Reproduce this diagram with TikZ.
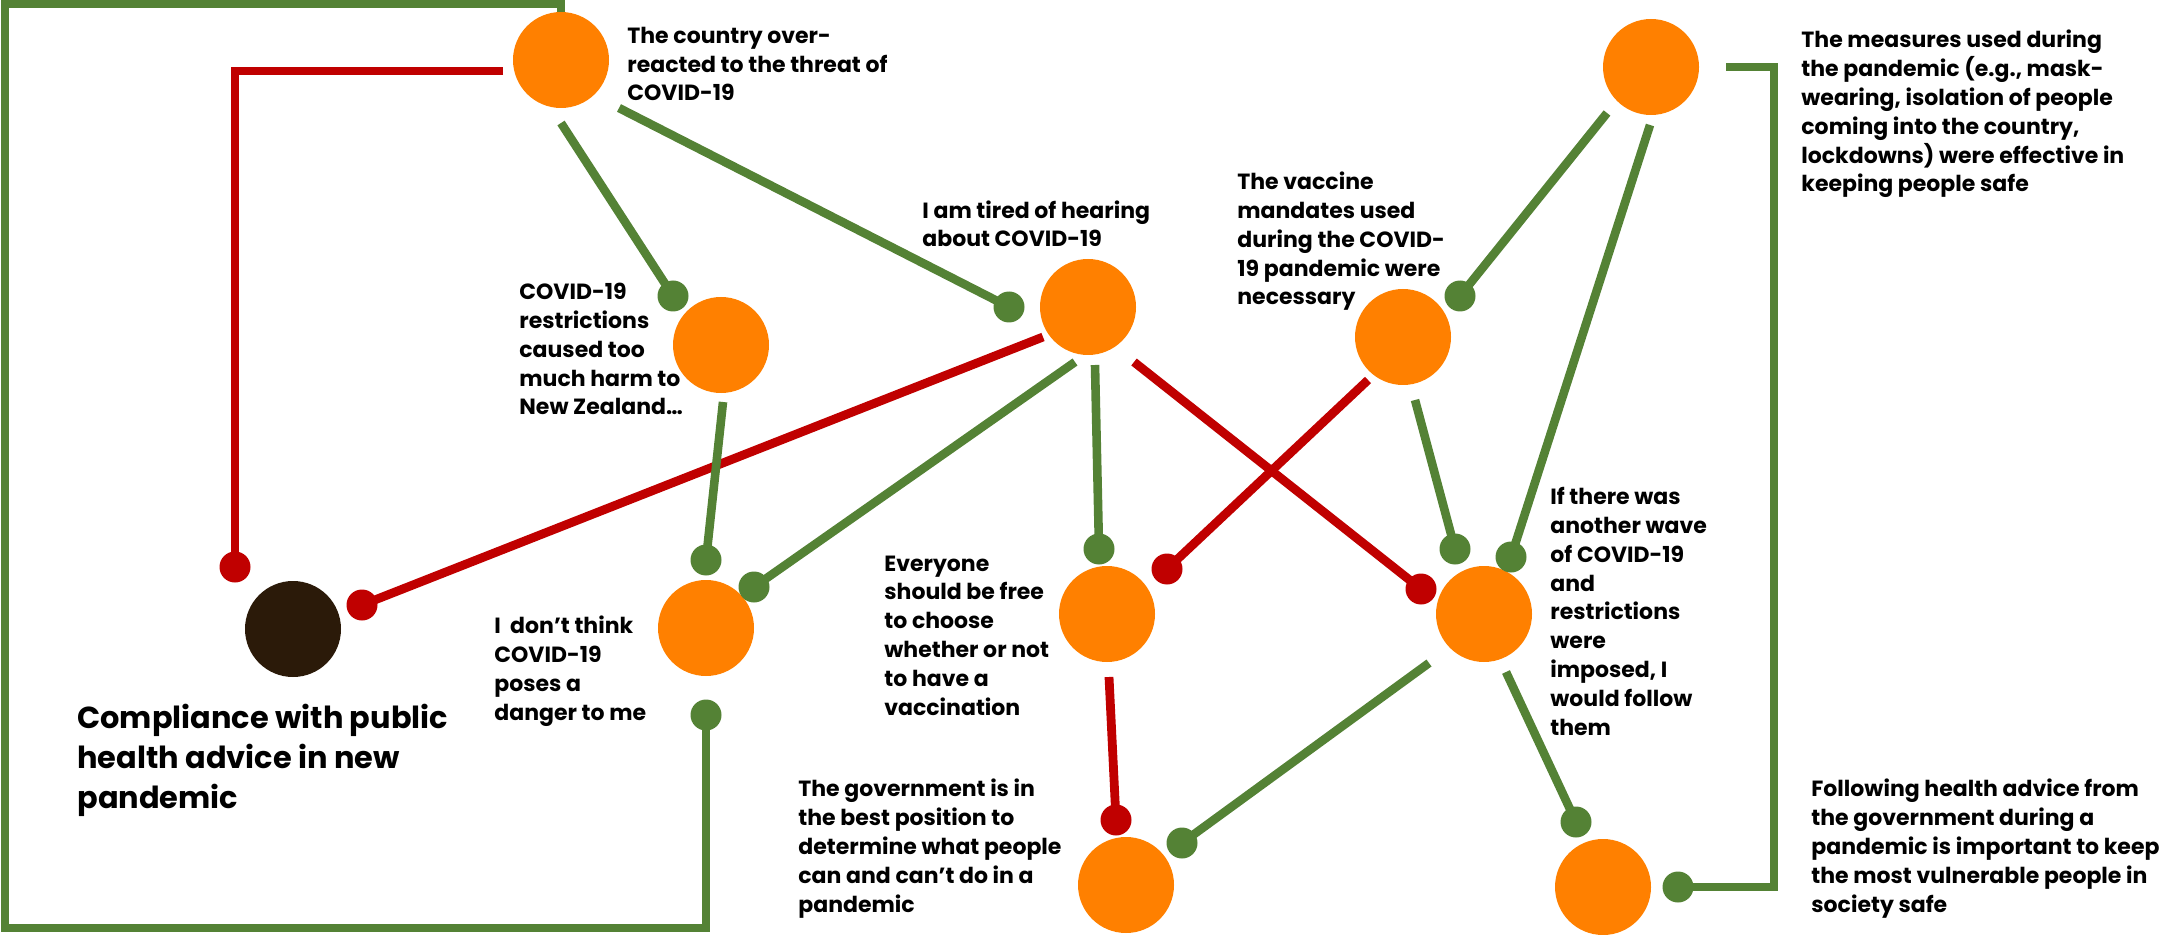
\documentclass[tikz,border=0pt]{standalone}
\usepackage{fontspec}
\setmainfont{Poppins}
\definecolor{ora}{RGB}{255,128,0}
\definecolor{grn}{RGB}{84,130,53}
\definecolor{rd}{RGB}{192,0,0}
\definecolor{drk}{RGB}{43,26,9}
\begin{document}
\begin{tikzpicture}[x=0.5pt,y=-0.5pt,
  circ/.style={circle,fill=ora,minimum size=48pt,inner sep=0},
  dcirc/.style={circle,fill=drk,minimum size=48pt,inner sep=0},
  gdot/.style={circle,fill=grn,minimum size=15.5pt,inner sep=0},
  rdot/.style={circle,fill=rd,minimum size=15.5pt,inner sep=0},
  gl/.style={draw=grn,line width=4.3pt},
  rl/.style={draw=rd,line width=4.4pt},
  lab/.style={anchor=base west,align=left,inner sep=0,font=\bfseries\fontsize{11}{14.4}\selectfont},
  biglab/.style={anchor=base west,align=left,inner sep=0,font=\bfseries\fontsize{15.2}{19.8}\selectfont},
]
\useasboundingbox (0,0) rectangle (2172,935);
% connector end points
\coordinate (s1) at (503,71);  \coordinate (d1) at (235,567);
\coordinate (s2) at (561,13);  \coordinate (d2) at (706,715);
\coordinate (s3) at (561,123); \coordinate (d3) at (673,296);
\coordinate (s4) at (619,108); \coordinate (d4) at (1009,307);
\coordinate (s5) at (1043,337);\coordinate (d5) at (362,605);
\coordinate (s6) at (723,402); \coordinate (d6) at (706,560);
\coordinate (s7) at (1075,362);\coordinate (d7) at (754,587);
\coordinate (s8) at (1095,365);\coordinate (d8) at (1099,549);
\coordinate (s9) at (1134,362);\coordinate (d9) at (1421,589);
\coordinate (s10) at (1368,380);\coordinate (d10) at (1167,569);
\coordinate (s11) at (1415,400);\coordinate (d11) at (1455,549);
\coordinate (s12) at (1607,113);\coordinate (d12) at (1460,296);
\coordinate (s13) at (1650,125);\coordinate (d13) at (1511,557);
\coordinate (s14) at (1726,67); \coordinate (d14) at (1678,887);
\coordinate (s15) at (1109,677);\coordinate (d15) at (1116,820);
\coordinate (s16) at (1429,663);\coordinate (d16) at (1182,843);
\coordinate (s17) at (1506,672);\coordinate (d17) at (1576,822);
% connectors
\draw[rl] (s1) -- (235,71) -- (d1);
\draw[gl] (s2) -- (561,4) -- (5,4) -- (5,928) -- (706,928) -- (d2);
\draw[gl] (s3) -- (d3);
\draw[gl] (s4) -- (d4);
\draw[rl] (s5) -- (d5);
\draw[gl] (s6) -- (d6);
\draw[gl] (s7) -- (d7);
\draw[gl] (s8) -- (d8);
\draw[rl] (s9) -- (d9);
\draw[rl] (s10) -- (d10);
\draw[gl] (s11) -- (d11);
\draw[gl] (s12) -- (d12);
\draw[gl] (s13) -- (d13);
\draw[gl] (s14) -- (1774,67) -- (1774,887) -- (d14);
\draw[rl] (s15) -- (d15);
\draw[gl] (s16) -- (d16);
\draw[gl] (s17) -- (d17);
% circles
\node[circ] (n1) at (561,60) {};
\node[circ] (n2) at (721,345) {};
\node[circ] (n3) at (1088,307) {};
\node[circ] (n4) at (1403,337) {};
\node[circ] (n5) at (1651,67) {};
\node[dcirc] (comp) at (293,629) {};
\node[circ] (n6) at (706,628) {};
\node[circ] (n7) at (1107,614) {};
\node[circ] (n8) at (1126,885) {};
\node[circ] (n9) at (1484,614) {};
\node[circ] (n10) at (1603,887) {};
% dots
\node[rdot] (e1) at (d1) {};
\node[gdot] (e2) at (d2) {};
\node[gdot] (e3) at (d3) {};
\node[gdot] (e4) at (d4) {};
\node[rdot] (e5) at (d5) {};
\node[gdot] (e6) at (d6) {};
\node[gdot] (e7) at (d7) {};
\node[gdot] (e8) at (d8) {};
\node[rdot] (e9) at (d9) {};
\node[rdot] (e10) at (d10) {};
\node[gdot] (e11) at (d11) {};
\node[gdot] (e12) at (d12) {};
\node[gdot] (e13) at (d13) {};
\node[gdot] (e14) at (d14) {};
\node[rdot] (e15) at (d15) {};
\node[gdot] (e16) at (d16) {};
\node[gdot] (e17) at (d17) {};
% labels (anchored at the baseline of their last line)
\node[lab] (t1) at (627,101) {The country over-\\reacted to the threat of\\COVID-19};
\node[lab] (t2) at (519,415) {COVID-19\\restrictions\\caused too\\much harm to\\New Zealand…};
\node[lab] (t3) at (922,247) {I am tired of hearing\\about COVID-19};
\node[lab] (t4) at (1237,305) {The vaccine\\mandates used\\during the COVID-\\19 pandemic were\\necessary};
\node[lab] (t5) at (1801,192) {The measures used during\\the pandemic (e.g., mask-\\wearing, isolation of people\\coming into the country,\\lockdowns) were effective in\\keeping people safe};
\node[biglab] (t6) at (77,808) {Compliance with public\\health advice in new\\pandemic};
\node[lab] (t7) at (494,720) {I\ \ don’t think\\COVID-19\\poses a\\danger to me};
\node[lab] (t8) at (884,715) {Everyone\\should be free\\to choose\\whether or not\\to have a\\vaccination};
\node[lab] (t9) at (798,912) {The government is in\\the best position to\\determine what people\\can and can’t do in a\\pandemic};
\node[lab] (t10) at (1550,735) {If there was\\another wave\\of COVID-19\\and\\restrictions\\were\\imposed, I\\would follow\\them};
\node[lab] (t11) at (1811,912) {Following health advice from\\the government during a\\pandemic is important to keep\\the most vulnerable people in\\society safe};
\end{tikzpicture}
\end{document}
